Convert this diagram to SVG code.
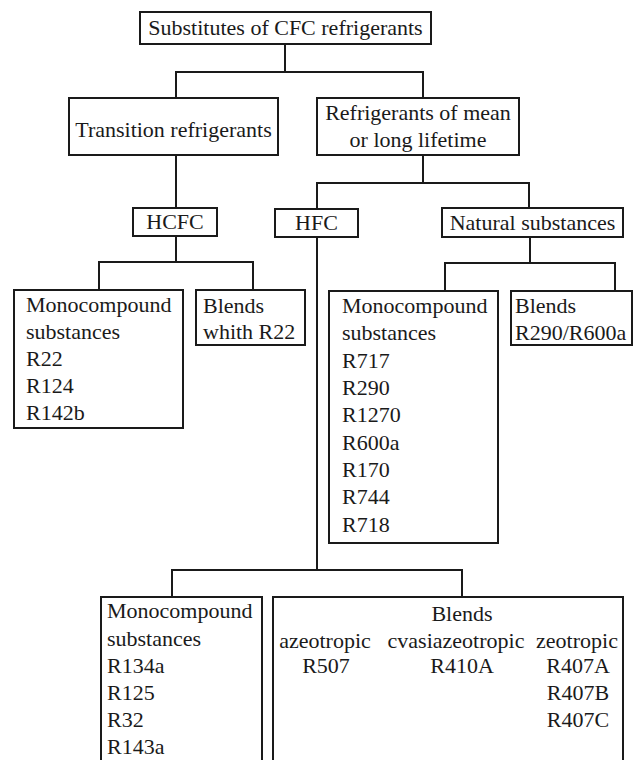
<svg xmlns="http://www.w3.org/2000/svg" width="638" height="760" viewBox="0 0 638 760">
<style>
.box{fill:#fff;stroke:#1a1a1a;stroke-width:2}
.t{font-family:"Liberation Serif","Times New Roman",serif;font-size:22px;fill:#1a1a1a}
.c{text-anchor:middle}
.ln{fill:none;stroke:#1a1a1a;stroke-width:2}
</style>
<rect width="638" height="760" fill="#fff"/>
<g id="connectors">
<path class="ln" d="M285,44V72M176,98V72H423V98"/>
<path class="ln" d="M176,155V208"/>
<path class="ln" d="M423,155V183M317,209V183H529V208"/>
<path class="ln" d="M176,236V262M99,290V262H253V290"/>
<path class="ln" d="M530,237V263M445,291V263H615V291"/>
<path class="ln" d="M317,237V570M172,597V570H462V597"/>
</g>
<g id="root"><rect class="box" x="140" y="12" width="291" height="32"/><text class="t c" x="285.5" y="35">Substitutes of CFC refrigerants</text></g>
<g id="transition"><rect class="box" x="69" y="98" width="209" height="57"/><text class="t c" x="173.5" y="137">Transition refrigerants</text></g>
<g id="longlife"><rect class="box" x="317" y="98" width="202" height="57"/><text class="t c" x="418" y="120">Refrigerants of mean</text><text class="t c" x="418" y="147">or long lifetime</text></g>
<g id="hcfc"><rect class="box" x="133" y="208" width="84" height="28"/><text class="t c" x="175" y="229">HCFC</text></g>
<g id="hfc"><rect class="box" x="275" y="209" width="83" height="28"/><text class="t c" x="316.5" y="230">HFC</text></g>
<g id="natural"><rect class="box" x="442" y="208" width="181" height="29"/><text class="t c" x="532.5" y="230">Natural substances</text></g>
<g id="hcfc-mono"><rect class="box" x="14" y="290" width="169" height="138"/><text class="t" x="26" y="312">Monocompound</text><text class="t" x="26" y="339">substances</text><text class="t" x="26" y="366">R22</text><text class="t" x="26" y="393">R124</text><text class="t" x="26" y="420">R142b</text></g>
<g id="hcfc-blends"><rect class="box" x="196" y="290" width="109" height="55"/><text class="t" x="203" y="313">Blends</text><text class="t" x="203" y="339">whith R22</text></g>
<g id="nat-mono"><rect class="box" x="329" y="291" width="169" height="252"/><text class="t" x="342" y="313">Monocompound</text><text class="t" x="342" y="340">substances</text><text class="t" x="342" y="368">R717</text><text class="t" x="342" y="395">R290</text><text class="t" x="342" y="422">R1270</text><text class="t" x="342" y="450">R600a</text><text class="t" x="342" y="477">R170</text><text class="t" x="342" y="504">R744</text><text class="t" x="342" y="532">R718</text></g>
<g id="nat-blends"><rect class="box" x="511" y="291" width="121" height="54"/><text class="t" x="515" y="313">Blends</text><text class="t" x="515" y="340">R290/R600a</text></g>
<g id="hfc-mono"><rect class="box" x="101" y="597" width="161" height="180"/><text class="t" x="107" y="618">Monocompound</text><text class="t" x="107" y="646">substances</text><text class="t" x="107" y="673">R134a</text><text class="t" x="107" y="700">R125</text><text class="t" x="107" y="727">R32</text><text class="t" x="107" y="754">R143a</text></g>
<g id="hfc-blends"><rect class="box" x="273" y="597" width="350" height="180"/><text class="t c" x="462" y="621">Blends</text><text class="t c" x="325" y="648">azeotropic</text><text class="t c" x="456" y="648">cvasiazeotropic</text><text class="t c" x="577" y="648">zeotropic</text><text class="t c" x="326" y="673">R507</text><text class="t c" x="462" y="673">R410A</text><text class="t c" x="578" y="673">R407A</text><text class="t c" x="578" y="700">R407B</text><text class="t c" x="578" y="727">R407C</text></g>
</svg>
